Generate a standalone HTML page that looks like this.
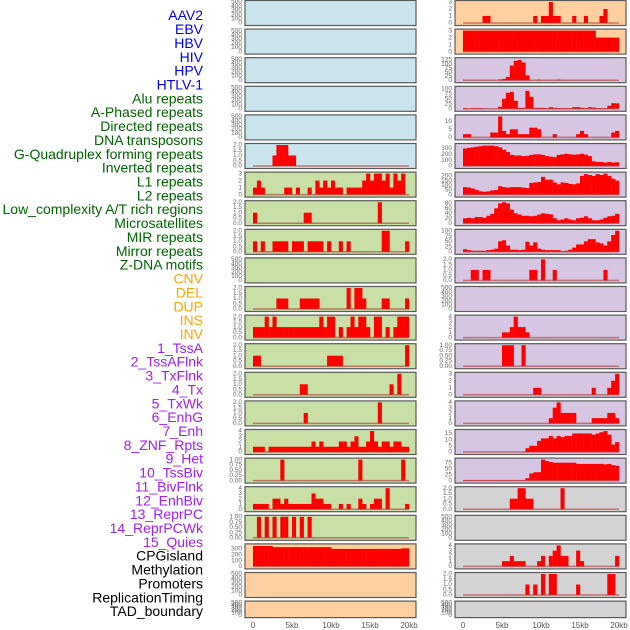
<!DOCTYPE html>
<html><head><meta charset="utf-8">
<style>
html,body{margin:0;padding:0;background:#fff;}
svg{display:block;font-family:"Liberation Sans",sans-serif;}
</style></head>
<body>
<svg id="chart" width="630" height="630" viewBox="0 0 630 630" xmlns="http://www.w3.org/2000/svg"></svg>
<script>
const trackLabels = ["AAV2","EBV","HBV","HIV","HPV","HTLV-1","Alu repeats","A-Phased repeats","Directed repeats","DNA transposons","G-Quadruplex forming repeats","Inverted repeats","L1 repeats","L2 repeats","Low_complexity A/T rich regions","Microsatellites","MIR repeats","Mirror repeats","Z-DNA motifs","CNV","DEL","DUP","INS","INV","1_TssA","2_TssAFlnk","3_TxFlnk","4_Tx","5_TxWk","6_EnhG","7_Enh","8_ZNF_Rpts","9_Het","10_TssBiv","11_BivFlnk","12_EnhBiv","13_ReprPC","14_ReprPCWk","15_Quies","CPGisland","Methylation","Promoters","ReplicationTiming","TAD_boundary"];
const labelGroups = [6,13,5,15,5];
const groupColors = ["#0000ee","#006400","#ffa500","#a020f0","#000000"];
const xTickLabels = ["0","5kb","10kb","15kb","20kb"];
const xTickValues = [0,5,10,15,20];

const T500 = ["0","100","200","300","400","500"];
const T2 = ["0.0","0.5","1.0","1.5","2.0"];
const T1 = ["0.00","0.25","0.50","0.75","1.00"];
const T3 = ["0","1","2","3"];
const T4 = ["0","1","2","3","4"];

const L5 = [0,0,0,0,0,1,2,2,2,1, 1,0,0,0,0,0,0,0,0,0, 0,0,0,0,0,0,0,0,0,0, 0,0,0,0,0,0,0,0,0,0];
const L6 = [1,2,1,0,0,0,0,0,1,1, 0,1,0,0,1,0,2,1,2,1, 2,1,1,0,1,1,1,1,2,3, 2,3,3,2,3,1,3,2,3,0];
const L7 = [1,0,0,0,0,0,0,0,0,0, 0,0,0,1,1,0,0,0,0,0, 0,0,0,0,0,0,0,0,0,0, 0,0,2,0,0,0,0,0,0,0];
const L8 = [1,0,1,0,0,1,1,1,1,0, 1,1,1,0,1,1,1,1,0,1, 0,0,1,0,1,0,0,0,0,0, 0,0,0,2,2,0,0,0,0,1];
const L10 = [0,0,0,0,0,0,1,1,1,0, 0,0,1,1,1,1,1,0,0,0, 0,0,0,0,2,0,2,2,1,0, 0,0,0,1,1,0,0,0,0,1];
const L11 = [1,1,1,2,1,2,1,1,1,1, 1,1,1,1,1,1,1,2,1,2, 2,0,1,0,1,2,1,2,2,1, 0,2,2,0,1,0,1,2,2,2];
const L12 = [1,1,0,0,0,0,0,0,0,0, 0,0,0,0,0,0,0,0,0,1, 1,1,1,0,0,0,0,0,0,0, 0,0,0,0,0,0,0,0,0,2];
const L13 = [0,0,0,0,0,0,0,0,0,0, 0,0,1,1,0,0,0,0,0,0, 0,0,0,0,0,0,0,0,0,0, 0,0,0,0,0,1,0,2,0,0];
const L14 = [0,0,0,0,0,0,0,0,0,0, 0,0,0,1,0,0,0,0,0,0, 0,0,0,0,0,0,0,0,0,0, 0,0,2,0,0,0,0,0,0,0];
const L15 = [1,1,1,0,1,1,1,1,1,1, 1,1,1,1,1,2,1,2,1,1, 1,1,2,2,1,2,3,1,1,2, 4,2,1,2,2,1,2,2,1,1];
const L16 = [0,0,0,0,0,0,0,1,0,0, 0,0,0,0,0,0,0,0,0,0, 0,0,0,0,0,0,0,1,0,0, 0,0,0,0,0,0,0,0,1,0];
const L17 = [1,1,1,1,0,2,2,1,2,1, 1,1,1,1,1,3,2,2,1,1, 0,0,1,0,1,0,0,2,1,0, 1,2,2,0,4,0,0,0,0,1];
const L18 = [0,1,0,1,0,1,0,1,1,0, 1,0,1,0,1,0,0,0,0,0, 0,0,0,0,0,0,0,0,0,0, 0,0,0,0,0,0,0,0,0,0];
const L19 = [350,350,350,350,350,330,330,330,330,330, 330,330,330,330,330,330,330,330,330,330, 300,300,300,300,300,300,300,300,300,300, 300,300,300,300,300,300,300,300,310,310];

const R0 = [0,0,0,0,0,1,1,0,0,0, 0,0,0,0,0,0,0,0,1,0, 1,1,3,1,1,0,0,0,1,0, 0,1,0,0,0,1,2,0,0,0];
const R1 = [3,3,3,3,3,3,3,3,3,3, 3,3,3,3,3,3,3,3,3,3, 3,3,3,3,3,3,3,3,3,3, 3,3,3,3,2,2,2,2,2,2];
const R2 = [0,0,0,0,0,0,0,0,0,5, 8,20,90,120,125,110,30,0,0,4, 0,0,0,0,4,0,0,0,0,0, 0,0,0,0,0,0,0,0,0,0];
const R3 = [3,0,3,3,3,0,0,0,0,10, 50,80,85,40,5,5,90,60,5,5, 5,3,8,5,3,3,3,3,8,8, 5,3,8,6,3,3,3,15,28,27];
const R4 = [2,2,0,0,0,0,0,3,3,13, 4,2,5,5,2,2,2,6,6,5, 0,0,0,2,0,0,0,0,0,2, 4,2,0,0,0,0,0,0,3,4];
const R5 = [300,310,320,330,340,350,350,350,340,320, 280,240,190,180,180,170,175,190,200,200, 190,170,160,150,190,200,210,200,195,200, 210,195,170,80,70,70,60,70,60,65];
const R6 = [80,75,65,50,35,30,35,45,50,90, 80,75,80,80,80,75,70,125,130,135, 190,160,160,130,110,130,125,115,110,120, 200,220,210,200,220,210,225,200,170,150];
const R7 = [20,22,20,25,25,22,30,38,60,80, 85,80,55,40,35,30,30,28,30,35, 40,38,36,20,12,15,20,15,12,20, 22,28,20,12,12,15,22,28,30,38];
const R8 = [12,8,5,5,5,5,8,10,15,50, 55,30,10,10,8,10,48,30,45,15, 10,8,8,8,8,2,5,10,20,35, 35,50,60,60,45,40,30,50,80,100];
const R9 = [0,0,1,1,0,1,1,0,0,0, 0,0,0,0,0,0,0,1,1,0, 2,0,0,1,0,0,0,0,0,0, 0,0,0,0,0,0,1,0,0,0];
const R11 = [0,0,0,0,0,0,0,0,0,0, 1,1,2,4,2,2,1,0,0,0, 0,0,0,0,0,0,0,0,0,0, 0,0,0,0,0,0,0,0,0,0];
const R12 = [0,0,0,0,0,0,0,0,0,0, 1,1,1,0,0,1,0,0,0,0, 0,0,0,0,0,0,0,0,0,0, 0,0,0,0,0,0,0,0,0,0];
const R13 = [0,0,0,0,0,0,0,0,0,0, 0,0,0,0,0,0,0,0,1,1, 0,0,0,0,0,0,0,0,0,0, 0,0,0,1,0,0,0,1,2,3];
const R14 = [0,0,0,0,0,0,0,0,0,0, 0,0,0,0,0,0,0,0,0,0, 0,0,1,3,4,2,2,2,2,0, 0,0,0,1,1,1,1,2,2,1];
const R15 = [0,0,0,0,0,0,0,0,0,0, 0,0,0,0,0,0,3,5,5,9, 11,11,13,11,13,12,13,13,15,15, 15,15,15,14,15,16,17,14,6,8];
const R16 = [2,2,2,2,2,2,2,2,2,2, 2,2,2,2,2,2,10,30,35,35, 88,82,78,75,75,75,75,75,75,70, 70,70,70,70,70,70,68,70,65,62];
const R17 = [0,0,0,0,0,0,0,0,0,0, 0,0,1,1,2,2,1,1,0,0, 0,0,0,0,0,2,0,0,0,0, 0,0,0,0,0,0,0,0,0,0];
const R19 = [0,0,0,0,0,0,0,0,0,0, 1,1,2,1,1,1,0,0,0,1, 2,0,2,3,4,2,2,0,0,3, 1,0,0,0,0,0,0,0,0,2];
const R20 = [0,0,0,0,0,0,0,0,0,0, 0,0,0,0,0,0,1,0,1,0, 2,0,2,2,0,0,0,0,0,1, 0,0,0,0,0,0,0,2,2,0];

const BLUE="#c9e4ec", GREEN="#c8e0a5", ORANGE="#ffd09f", PURPLE="#d6c6e2", GRAY="#d3d3d3";
const leftPanels = [
 [null,T500,500,BLUE],[null,T500,500,BLUE],[null,T500,500,BLUE],[null,T500,500,BLUE],[null,T500,500,BLUE],
 [L5,T2,2,BLUE],[L6,T3,3,GREEN],[L7,T2,2,GREEN],[L8,T2,2,GREEN],[null,T500,500,GREEN],
 [L10,T2,2,GREEN],[L11,T2,2,GREEN],[L12,T2,2,GREEN],[L13,T2,2,GREEN],[L14,T2,2,GREEN],
 [L15,T4,4,GREEN],[L16,T1,1,GREEN],[L17,T4,4,GREEN],[L18,T1,1,GREEN],
 [L19,["0","100","200","300"],360,ORANGE],[null,T500,500,ORANGE],[null,T500,500,ORANGE]
];
const rightPanels = [
 [R0,T3,3,ORANGE],[R1,T3,3,ORANGE],
 [R2,["0","25","50","75","100","125"],130,PURPLE],[R3,["0","25","50","75","100"],105,PURPLE],
 [R4,["0","5","10"],13,PURPLE],[R5,["0","100","200","300"],360,PURPLE],
 [R6,["0","50","100","150","200"],225,PURPLE],[R7,["0","20","40","60","80"],85,PURPLE],
 [R8,["0","25","50","75","100"],100,PURPLE],[R9,T2,2,PURPLE],[null,T500,500,PURPLE],
 [R11,T4,4,PURPLE],[R12,T1,1,PURPLE],[R13,T3,3,PURPLE],[R14,T4,4,PURPLE],
 [R15,["0","5","10","15"],17,PURPLE],[R16,["0","25","50","75"],88,PURPLE],
 [R17,T2,2,GRAY],[null,T500,500,GRAY],[R19,T4,4,GRAY],[R20,T2,2,GRAY],[null,T500,500,GRAY]
];

const svg = document.getElementById('chart');
const NS = "http://www.w3.org/2000/svg";
function mk(tag, attrs){const e=document.createElementNS(NS,tag);for(const k in attrs)e.setAttribute(k,attrs[k]);svg.appendChild(e);return e;}

let li=0;
labelGroups.forEach((n,g)=>{for(let k=0;k<n;k++){
  const t=mk('text',{x:203,y:16.5+li*13.86,'text-anchor':'end','dominant-baseline':'middle','font-size':14,fill:groupColors[g]});
  t.textContent=trackLabels[li];
  
  
  li++;}});

const KB=7.8, BIN=0.5;
function drawColumn(panels, px, x0, col){
  panels.forEach((p,i)=>{
    const [data,ticks,dmax,bg]=p;
    const top=0.5+i*28.6;
    const h = i===21 ? 16.5 : 25;
    const g=document.createElementNS(NS,'g');svg.appendChild(g);
    
    
    const r=document.createElementNS(NS,'rect');
    r.setAttribute('x',px);r.setAttribute('y',top);r.setAttribute('width',171);r.setAttribute('height',h);
    r.setAttribute('fill',bg);r.setAttribute('stroke','#5a5a5a');r.setAttribute('stroke-width',1.2);
    
    
    g.appendChild(r);
    const y0=top+h-2.5, y1=top+1.5;
    const ys=v=>y0-(v/dmax)*(y0-y1);
    ticks.forEach(tl=>{
      const t=document.createElementNS(NS,'text');
      t.setAttribute('x',px-3);t.setAttribute('y',ys(parseFloat(tl)));
      t.setAttribute('text-anchor','end');t.setAttribute('dominant-baseline','middle');
      t.setAttribute('font-size',6.5);t.setAttribute('fill','#666');
      t.textContent=tl;
      
      
      g.appendChild(t);
    });
    if(data){
      data.forEach((v,b)=>{
        if(!v) return;
        const br=document.createElementNS(NS,'rect');
        const xa=x0+b*BIN*KB;
        br.setAttribute('x',xa);br.setAttribute('width',BIN*KB+0.2);
        br.setAttribute('y',ys(v));br.setAttribute('height',y0-ys(v));
        br.setAttribute('fill','#ff0000');
        
        
        g.appendChild(br);
      });
      const bl=document.createElementNS(NS,'line');
      bl.setAttribute('x1',x0);bl.setAttribute('x2',x0+20*KB);bl.setAttribute('y1',y0);bl.setAttribute('y2',y0);
      bl.setAttribute('stroke','#b03030');bl.setAttribute('stroke-opacity',0.6);bl.setAttribute('stroke-width',1.5);
      
      
      g.appendChild(bl);
    }
  });
  xTickValues.forEach((v,k)=>{
    const t=mk('text',{x:x0+v*KB,y:628,'text-anchor':'middle','font-size':8,fill:'#555'});
    t.textContent=xTickLabels[k];
    
    
  });
}
drawColumn(leftPanels,245,253,'left');
drawColumn(rightPanels,455,463,'right');
</script>
</body></html>
